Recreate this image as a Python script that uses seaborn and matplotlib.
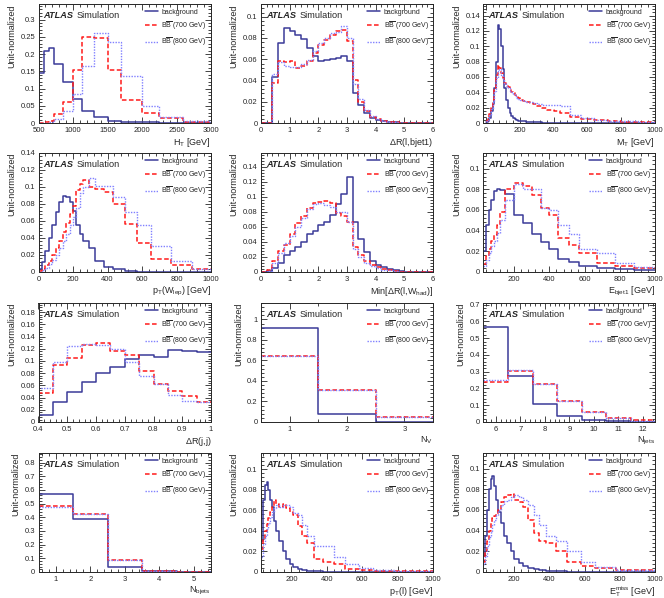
import numpy as np
import matplotlib
matplotlib.use("Agg")
import matplotlib.pyplot as plt
import seaborn as sns
from matplotlib.ticker import MultipleLocator, AutoMinorLocator, FuncFormatter

# =========================
# data (unit-normalised bin contents)
# =========================
HT_EDGES = [500, 575, 650, 725, 850, 1000, 1125, 1300, 1500, 1700, 2000, 2250, 2600, 3000]
HT_BKG = [0.145, 0.210, 0.216, 0.172, 0.120, 0.071, 0.035, 0.018, 0.007, 0.003, 0.0015, 0.0005, 0.0002]
HT_B700 = [0, 0.002, 0.006, 0.025, 0.062, 0.153, 0.248, 0.245, 0.155, 0.068, 0.028, 0.014, 0.004]
HT_B800 = [0, 0.001, 0.003, 0.013, 0.035, 0.085, 0.165, 0.260, 0.235, 0.135, 0.048, 0.016, 0.007]

DRLB_EDGES = np.linspace(0, 6, 31)
DRLB_BKG = [0, 0, 0.043, 0.075, 0.089, 0.087, 0.083, 0.079, 0.071, 0.063, 0.058, 0.059, 0.060, 0.061, 0.063,
            0.058, 0.028, 0.017, 0.009, 0.005, 0.003, 0.0015, 0.001, 0.0005, 0.0003, 0.0002, 0, 0, 0, 0]
DRLB_B700 = [0, 0, 0.038, 0.058, 0.057, 0.058, 0.052, 0.054, 0.058, 0.066, 0.073, 0.078, 0.083, 0.087, 0.088,
             0.077, 0.040, 0.020, 0.011, 0.006, 0.004, 0.002, 0.001, 0.0005, 0.0003, 0.0002, 0, 0, 0, 0]
DRLB_B800 = [0, 0, 0.046, 0.057, 0.054, 0.053, 0.053, 0.056, 0.059, 0.068, 0.075, 0.080, 0.085, 0.086, 0.091,
             0.080, 0.037, 0.023, 0.012, 0.007, 0.004, 0.002, 0.001, 0.0005, 0.0003, 0.0002, 0, 0, 0, 0]

MT_EDGES = [0, 10, 20, 30, 40, 50, 60, 70, 80, 90, 100, 110, 120, 130, 140, 150, 160, 170, 180, 190, 200,
            220, 240, 260, 280, 300, 330, 360, 400, 440, 500, 560, 640, 720, 800, 900, 1000]
MT_BKG = [0.001, 0.003, 0.007, 0.015, 0.025, 0.045, 0.080, 0.128, 0.122, 0.100, 0.070, 0.045, 0.030, 0.020,
          0.013, 0.009, 0.007, 0.005, 0.004, 0.003, 0.003, 0.002, 0.0015, 0.001, 0.001, 0.0007, 0.0005,
          0.0003, 0.0002, 0.0001, 0, 0, 0, 0, 0, 0]
MT_B700 = [0.002, 0.005, 0.012, 0.020, 0.030, 0.045, 0.062, 0.075, 0.072, 0.065, 0.058, 0.052, 0.050, 0.047,
           0.044, 0.041, 0.039, 0.036, 0.034, 0.032, 0.030, 0.029, 0.027, 0.026, 0.025, 0.022, 0.020, 0.017,
           0.015, 0.013, 0.008, 0.005, 0.004, 0.002, 0.0015, 0.001]
MT_B800 = [0.002, 0.004, 0.010, 0.018, 0.028, 0.042, 0.058, 0.068, 0.070, 0.063, 0.057, 0.052, 0.048, 0.045,
           0.042, 0.040, 0.038, 0.035, 0.033, 0.031, 0.030, 0.029, 0.028, 0.027, 0.026, 0.025, 0.024, 0.024,
           0.023, 0.022, 0.010, 0.006, 0.004, 0.003, 0.002, 0.0015]

PTW_EDGES = [0, 20, 40, 60, 80, 100, 120, 140, 160, 180, 200, 220, 240, 260, 290, 330, 380, 430, 500,
             570, 650, 770, 890, 1000]
PTW_BKG = [0.003, 0.012, 0.025, 0.040, 0.055, 0.070, 0.082, 0.090, 0.088, 0.082, 0.072, 0.055, 0.045, 0.036,
           0.028, 0.013, 0.006, 0.003, 0.0015, 0.0005, 0, 0, 0]
PTW_B700 = [0.001, 0.003, 0.008, 0.013, 0.020, 0.028, 0.037, 0.047, 0.058, 0.068, 0.078, 0.097, 0.104, 0.108,
            0.100, 0.098, 0.094, 0.080, 0.057, 0.034, 0.015, 0.008, 0.003]
PTW_B800 = [0.0005, 0.002, 0.005, 0.009, 0.014, 0.020, 0.028, 0.036, 0.045, 0.055, 0.065, 0.075, 0.093, 0.100,
            0.111, 0.101, 0.101, 0.088, 0.070, 0.055, 0.030, 0.013, 0.004]

MDR_EDGES = np.linspace(0, 6, 31)
MDR_BKG = [0, 0.001, 0.005, 0.012, 0.022, 0.028, 0.033, 0.040, 0.050, 0.055, 0.062, 0.067, 0.076, 0.090, 0.104,
           0.126, 0.066, 0.044, 0.027, 0.015, 0.009, 0.006, 0.004, 0.002, 0.001, 0.0005, 0, 0, 0, 0]
MDR_B700 = [0, 0.002, 0.014, 0.028, 0.036, 0.050, 0.065, 0.074, 0.085, 0.091, 0.093, 0.094, 0.092, 0.078, 0.074,
            0.066, 0.033, 0.022, 0.014, 0.009, 0.006, 0.004, 0.002, 0.001, 0.0005, 0, 0, 0, 0, 0]
MDR_B800 = [0, 0.001, 0.012, 0.025, 0.038, 0.048, 0.060, 0.072, 0.083, 0.090, 0.091, 0.089, 0.086, 0.079, 0.080,
            0.067, 0.030, 0.020, 0.012, 0.008, 0.005, 0.003, 0.002, 0.001, 0.0005, 0, 0, 0, 0, 0]

EBJ_EDGES = [25, 40, 55, 70, 85, 100, 120, 150, 200, 250, 300, 350, 400, 450, 510, 570, 670, 770, 880, 1000]
EBJ_BKG = [0.020, 0.045, 0.060, 0.070, 0.078, 0.080, 0.079, 0.075, 0.055, 0.047, 0.037, 0.029, 0.022, 0.013,
           0.010, 0.006, 0.004, 0.003, 0.002]
EBJ_B700 = [0.008, 0.015, 0.022, 0.030, 0.036, 0.045, 0.058, 0.080, 0.086, 0.083, 0.074, 0.062, 0.055, 0.033,
            0.026, 0.018, 0.009, 0.006, 0.004]
EBJ_B800 = [0.006, 0.012, 0.018, 0.025, 0.030, 0.038, 0.050, 0.070, 0.085, 0.080, 0.080, 0.062, 0.060, 0.045,
            0.037, 0.022, 0.018, 0.009, 0.005]

DRJJ_EDGES = [0.4, 0.45, 0.5, 0.55, 0.6, 0.65, 0.7, 0.75, 0.8, 0.85, 0.9, 0.95, 1.0]
DRJJ_BKG = [0.012, 0.032, 0.049, 0.066, 0.081, 0.090, 0.103, 0.110, 0.106, 0.118, 0.117, 0.115]
DRJJ_B700 = [0.048, 0.093, 0.105, 0.126, 0.130, 0.116, 0.110, 0.083, 0.063, 0.050, 0.043, 0.033]
DRJJ_B800 = [0.055, 0.098, 0.124, 0.127, 0.126, 0.120, 0.099, 0.076, 0.062, 0.045, 0.035, 0.032]

NV_EDGES = [0.5, 1.5, 2.5, 3.5]
NV_BKG = [0.92, 0.08, 0.0]
NV_B700 = [0.645, 0.31, 0.045]
NV_B800 = [0.643, 0.312, 0.045]

NJ_EDGES = [5.5, 6.5, 7.5, 8.5, 9.5, 10.5, 11.5, 12.5]
NJ_BKG = [0.565, 0.275, 0.105, 0.033, 0.012, 0.004, 0.001]
NJ_B700 = [0.237, 0.305, 0.225, 0.125, 0.062, 0.025, 0.009]
NJ_B800 = [0.250, 0.310, 0.225, 0.125, 0.062, 0.022, 0.007]

NB_EDGES = [0.5, 1.5, 2.5, 3.5, 4.5, 5.5]
NB_BKG = [0.570, 0.385, 0.040, 0.005, 0.0]
NB_B700 = [0.480, 0.425, 0.090, 0.008, 0.001]
NB_B800 = [0.475, 0.425, 0.090, 0.009, 0.001]

PTL_EDGES = [28, 40, 50, 60, 70, 80, 90, 100, 115, 130, 150, 170, 190, 210, 235, 260, 290, 330, 380, 440,
             500, 580, 660, 780, 1000]
PTL_BKG = [0.030, 0.070, 0.085, 0.087, 0.080, 0.070, 0.063, 0.050, 0.040, 0.030, 0.020, 0.013, 0.008, 0.005,
           0.003, 0.002, 0.001, 0.0005, 0.0002, 0, 0, 0, 0, 0]
PTL_B700 = [0.022, 0.032, 0.040, 0.047, 0.052, 0.058, 0.063, 0.070, 0.066, 0.063, 0.066, 0.062, 0.058, 0.055,
            0.045, 0.035, 0.028, 0.013, 0.010, 0.008, 0.003, 0.002, 0.001, 0.0005]
PTL_B800 = [0.015, 0.027, 0.035, 0.042, 0.048, 0.053, 0.058, 0.062, 0.065, 0.063, 0.065, 0.065, 0.063, 0.057,
            0.055, 0.046, 0.035, 0.025, 0.025, 0.015, 0.008, 0.004, 0.002, 0.001]

MET_EDGES = [25, 35, 45, 55, 65, 75, 85, 95, 110, 125, 140, 160, 180, 200, 225, 250, 280, 310, 340, 380,
             440, 500, 580, 660, 780, 1000]
MET_BKG = [0.015, 0.035, 0.060, 0.080, 0.090, 0.093, 0.083, 0.070, 0.058, 0.047, 0.035, 0.028, 0.020, 0.013,
           0.009, 0.006, 0.004, 0.003, 0.002, 0.001, 0.0005, 0.0002, 0, 0, 0]
MET_B700 = [0.010, 0.020, 0.030, 0.040, 0.048, 0.052, 0.054, 0.056, 0.060, 0.068, 0.072, 0.074, 0.075, 0.070,
            0.068, 0.063, 0.050, 0.038, 0.030, 0.028, 0.020, 0.010, 0.006, 0.004, 0.002]
MET_B800 = [0.008, 0.015, 0.025, 0.034, 0.040, 0.045, 0.050, 0.055, 0.060, 0.065, 0.069, 0.070, 0.072, 0.074,
            0.072, 0.070, 0.065, 0.055, 0.045, 0.035, 0.030, 0.020, 0.010, 0.005, 0.002]

# panel settings: edges, series, xlabel, xlim, ylim, x major, y major
PANELS = [
    (HT_EDGES, HT_BKG, HT_B700, HT_B800, r"H$_{\mathrm{T}}$ [GeV]", (500, 3000), 0.345, 500, 0.05),
    (DRLB_EDGES, DRLB_BKG, DRLB_B700, DRLB_B800, r"$\Delta$R(l,bjet1)", (0, 6), 0.112, 1, 0.02),
    (MT_EDGES, MT_BKG, MT_B700, MT_B800, r"M$_{\mathrm{T}}$ [GeV]", (-14, 1000), 0.155, 200, 0.02),
    (PTW_EDGES, PTW_BKG, PTW_B700, PTW_B800, r"p$_{\mathrm{T}}$(W$_{\mathrm{lep}}$) [GeV]", (0, 1000), 0.14, 200, 0.02),
    (MDR_EDGES, MDR_BKG, MDR_B700, MDR_B800, r"Min[$\Delta$R(l,W$_{\mathrm{had}}$)]", (0, 6), 0.158, 1, 0.02),
    (EBJ_EDGES, EBJ_BKG, EBJ_B700, EBJ_B800, r"E$_{\mathrm{bjet1}}$ [GeV]", (25, 1000), 0.115, 200, 0.02),
    (DRJJ_EDGES, DRJJ_BKG, DRJJ_B700, DRJJ_B800, r"$\Delta$R(j,j)", (0.4, 1.0), 0.195, 0.1, 0.02),
    (NV_EDGES, NV_BKG, NV_B700, NV_B800, r"N$_{\mathrm{V}}$", (0.5, 3.5), 1.16, 1, 0.2),
    (NJ_EDGES, NJ_BKG, NJ_B700, NJ_B800, r"N$_{\mathrm{jets}}$", (5.5, 12.5), 0.71, 1, 0.1),
    (NB_EDGES, NB_BKG, NB_B700, NB_B800, r"N$_{\mathrm{bjets}}$", (0.5, 5.5), 0.87, 1, 0.1),
    (PTL_EDGES, PTL_BKG, PTL_B700, PTL_B800, r"p$_{\mathrm{T}}$(l) [GeV]", (28, 1000), 0.1156, 200, 0.02),
    (MET_EDGES, MET_BKG, MET_B700, MET_B800, r"E$_{\mathrm{T}}^{\mathrm{miss}}$ [GeV]", (25, 1000), 0.115, 200, 0.02),
]

LABELS = ["background", r"B$\overline{\mathrm{B}}$ (700 GeV)", r"B$\overline{\mathrm{B}}$ (800 GeV)"]
COLORS = ["#3b3b98", "#ff1a1a", "#8080ff"]
STYLES = ["-", (0, (3, 1.6)), (0, (1, 1))]
WIDTHS = [1.1, 1.1, 1.0]

# =========================
# style
# =========================
sns.set_style("ticks")
plt.rcParams["font.family"] = ["Liberation Sans", "DejaVu Sans"]
plt.rcParams["mathtext.fontset"] = "custom"
plt.rcParams["mathtext.rm"] = "Liberation Sans"
plt.rcParams["mathtext.it"] = "Liberation Sans:italic"
plt.rcParams["axes.linewidth"] = 0.7

W, H = 664, 598
fig = plt.figure(figsize=(W / 100, H / 100), dpi=100)

COL_L = [38.5, 261, 483.5]
COL_R = [211, 433, 655]
ROW_B = [123, 272, 422, 572]
AX_H = 119


def draw_panel(ax, p):
    edges, bkg, b700, b800, xlabel, xlim, ymax, xmaj, ymaj = p
    edges = [float(e) for e in edges]
    centers = [0.5 * (a + b) for a, b in zip(edges[:-1], edges[1:])]
    for vals, lab, c, ls, lw in zip([bkg, b700, b800], LABELS, COLORS, STYLES, WIDTHS):
        sns.histplot(x=centers, weights=list(vals), bins=edges, element="step", fill=False,
                     color=c, linestyle=ls, linewidth=lw, label=lab, ax=ax)
    ax.set_xlim(*xlim)
    ax.set_ylim(0, ymax)
    ax.xaxis.set_major_locator(MultipleLocator(xmaj))
    ax.yaxis.set_major_locator(MultipleLocator(ymaj))
    ax.xaxis.set_minor_locator(AutoMinorLocator(5 if xmaj != 1 or xlim[1] - xlim[0] > 4 else 2))
    ax.yaxis.set_minor_locator(AutoMinorLocator(5))
    fmt = FuncFormatter(lambda v, pos: "%g" % round(v, 6))
    ax.xaxis.set_major_formatter(fmt)
    ax.yaxis.set_major_formatter(fmt)
    ax.tick_params(which="both", direction="in", top=True, right=True, labelsize=5.5, width=0.6)
    ax.tick_params(axis="x", pad=3)
    ax.tick_params(axis="y", pad=2.5)
    ax.tick_params(which="major", length=4)
    ax.tick_params(which="minor", length=2)
    ax.set_xlabel(xlabel, loc="right", fontsize=6.5, labelpad=1)
    ax.set_ylabel("Unit-normalized", loc="top", fontsize=6.5, labelpad=3)
    atl = ax.text(0.03, 0.905, "ATLAS", transform=ax.transAxes, fontsize=6.6, fontweight="bold",
                  style="italic", va="center")
    ax.legend(loc="upper left", bbox_to_anchor=(0.6, 0.985), frameon=False, fontsize=5.0,
              handlelength=1.9, handletextpad=0.5, labelspacing=0.5, borderaxespad=0)
    return atl


atlas_texts = []
for i, p in enumerate(PANELS):
    r, c = divmod(i, 3)
    left = COL_L[c] / W
    bottom = 1 - ROW_B[r] / H
    ax = fig.add_axes([left, bottom, (COL_R[c] - COL_L[c]) / W, AX_H / H])
    atlas_texts.append((ax, draw_panel(ax, p)))

# put "Simulation" right after the bold ATLAS label
fig.canvas.draw()
renderer = fig.canvas.get_renderer()
for ax, atl in atlas_texts:
    bb = atl.get_window_extent(renderer)
    x_end = ax.transAxes.inverted().transform((bb.x1 + 3, bb.y0))[0]
    ax.text(x_end, 0.905, "Simulation", transform=ax.transAxes, fontsize=6.6, va="center")

fig.savefig("out.png", dpi=100)
